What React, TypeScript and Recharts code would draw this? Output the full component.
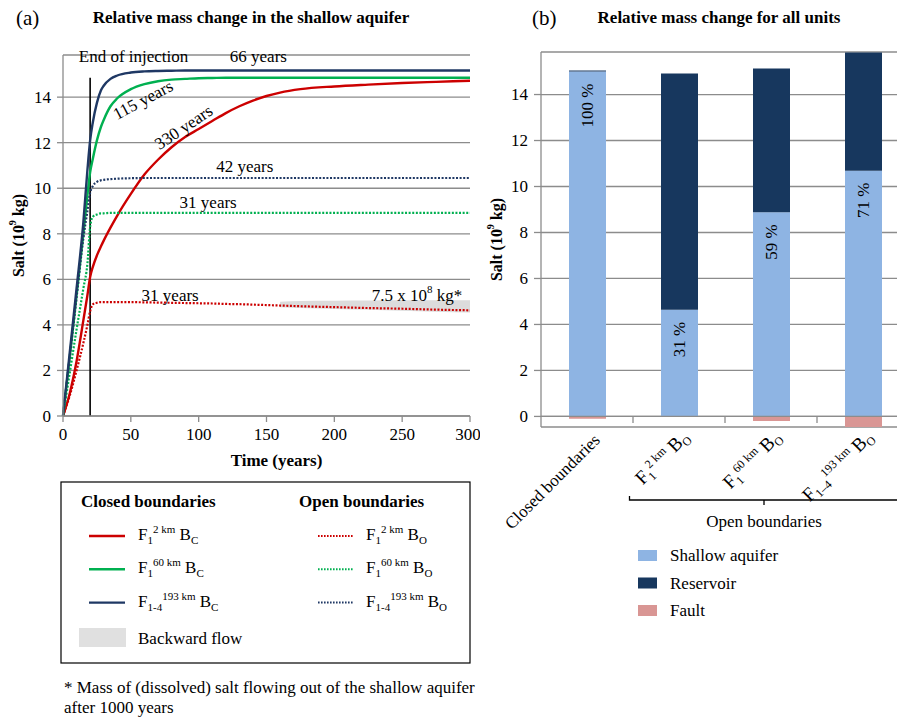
import React from 'react';
import {
  ComposedChart, Line, Area, XAxis, YAxis, CartesianGrid, ReferenceLine, ReferenceDot,
  BarChart, Bar, LabelList,
} from 'recharts';

const FONT = '"Liberation Serif", "Times New Roman", serif';
const GRID = '#8C8C8C';
const RED = '#CC0000';
const GREEN = '#00B050';
const NAVY = '#1F3864';

// (a) salt in the shallow aquifer (10^9 kg) against time (years)
const times = [0, 5, 10, 15, 18, 20, 22, 25, 28, 30, 35, 40, 50, 60, 70, 80, 90, 100, 110, 120, 130, 140, 150, 160, 175, 200, 225, 250, 275, 300];
const closed2km = [0, 1.0, 2.4, 4.2, 5.3, 6.1, 6.55, 7.05, 7.45, 7.7, 8.27, 8.8, 9.75, 10.6, 11.25, 11.8, 12.25, 12.6, 12.95, 13.3, 13.6, 13.85, 14.05, 14.2, 14.35, 14.47, 14.55, 14.62, 14.67, 14.72];
const closed60km = [0, 2.6, 5.3, 8.0, 9.7, 10.7, 11.3, 12.1, 12.7, 13.0, 13.6, 13.95, 14.35, 14.57, 14.7, 14.77, 14.8, 14.83, 14.84, 14.85, 14.85, 14.85, 14.85, 14.85, 14.85, 14.85, 14.85, 14.85, 14.85, 14.85];
const closed193km = [0, 2.8, 5.6, 8.5, 10.8, 12.1, 12.9, 13.75, 14.3, 14.5, 14.8, 14.95, 15.08, 15.13, 15.15, 15.16, 15.17, 15.17, 15.17, 15.17, 15.17, 15.17, 15.17, 15.17, 15.17, 15.17, 15.17, 15.17, 15.17, 15.17];
const open2km = [0, 0.9, 2.0, 3.2, 4.0, 4.6, 4.9, 4.97, 5.0, 5.0, 5.0, 5.0, 5.0, 4.99, 4.98, 4.97, 4.96, 4.95, 4.94, 4.92, 4.91, 4.89, 4.87, 4.85, 4.82, 4.78, 4.74, 4.71, 4.67, 4.64];
const open60km = [0, 1.9, 3.8, 5.6, 6.7, 8.3, 8.75, 8.85, 8.9, 8.9, 8.92, 8.92, 8.92, 8.92, 8.92, 8.92, 8.92, 8.92, 8.92, 8.92, 8.92, 8.92, 8.92, 8.92, 8.92, 8.92, 8.92, 8.92, 8.92, 8.92];
const open193km = [0, 2.6, 5.2, 7.8, 9.0, 9.8, 10.1, 10.28, 10.35, 10.37, 10.4, 10.42, 10.44, 10.45, 10.45, 10.45, 10.45, 10.45, 10.45, 10.45, 10.45, 10.45, 10.45, 10.45, 10.45, 10.45, 10.45, 10.45, 10.45, 10.45];

// backward flow band
const bandTimes = [160, 175, 200, 225, 250, 275, 300];
const bandLow = [4.78, 4.74, 4.70, 4.66, 4.62, 4.58, 4.54];
const bandHigh = [5.02, 5.05, 5.06, 5.07, 5.08, 5.08, 5.08];

const xTicks = [0, 50, 100, 150, 200, 250, 300];
const yTicks = [0, 2, 4, 6, 8, 10, 12, 14];
const injectionEnd = 20;
const injectionTop = 14.85;

const noteText = ['End of injection', '66 years', '115 years', '330 years', '42 years', '31 years', '31 years'];
const noteTime = [52, 144, 59, 89, 134, 107, 79];
const noteValue = [15.8, 15.8, 13.87, 12.67, 10.94, 9.36, 5.3];
const noteAngle = [0, 0, -28, -34, 0, 0, 0];

// (b) relative mass change per unit
const barCats = ['Closed', 'F1 2km BO', 'F1 60km BO', 'F1-4 193km BO'];
const shallowVals = [15.0, 4.64, 8.88, 10.69];
const reservoirVals = [0.05, 10.28, 6.25, 5.14];
const faultVals = [-0.1, 0, -0.2, -0.46];
const shareLabels = ['100 %', '31 %', '59 %', '71 %'];
const catSub = ['', '1', '1', '1–4'];
const catSup = ['', '2 km', '60 km', '193 km'];

const lineData = times.map((t, i) => {
  const j = bandTimes.indexOf(t);
  return {
    t,
    c2: closed2km[i], c60: closed60km[i], c193: closed193km[i],
    o2: open2km[i], o60: open60km[i], o193: open193km[i],
    band: j >= 0 ? [bandLow[j], bandHigh[j]] : null,
  };
});

const barData = barCats.map((cat, i) => ({
  cat, shallow: shallowVals[i], reservoir: reservoirVals[i], fault: faultVals[i],
}));

const series = [
  { key: 'c2', color: RED, dotted: false, sub: '1', sup: '2 km', b: 'C' },
  { key: 'c60', color: GREEN, dotted: false, sub: '1', sup: '60 km', b: 'C' },
  { key: 'c193', color: NAVY, dotted: false, sub: '1-4', sup: '193 km', b: 'C' },
  { key: 'o2', color: RED, dotted: true, sub: '1', sup: '2 km', b: 'O' },
  { key: 'o60', color: GREEN, dotted: true, sub: '1', sup: '60 km', b: 'O' },
  { key: 'o193', color: NAVY, dotted: true, sub: '1-4', sup: '193 km', b: 'O' },
];

const FName = ({ x, y, sub, sup, b, size = 17, small = 11, ...rest }: any) => (
  <text x={x} y={y} fontSize={size} fontFamily={FONT} fill="#000" {...rest}>
    F<tspan fontSize={small} dy={4}>{sub}</tspan>
    <tspan fontSize={small} dy={-11}>{sup}</tspan>
    <tspan fontSize={size} dy={7}>{' B'}</tspan>
    <tspan fontSize={small} dy={4}>{b}</tspan>
  </text>
);

const SaltTitle = ({ x, y }: any) => (
  <text x={x} y={y} transform={`rotate(-90 ${x} ${y})`} textAnchor="middle" dominantBaseline="central"
    fontSize={16} fontWeight="bold" fontFamily={FONT} fill="#000">
    Salt (10<tspan fontSize={10} dy={-6}>9</tspan><tspan dy={6}> kg)</tspan>
  </text>
);

const XNum = (p: any) => (
  <text x={p.x} y={p.y} dy="0.71em" textAnchor="middle" fontSize={17} fontFamily={FONT} fill="#000">
    {p.payload.value}
  </text>
);

const YNum = (p: any) => (
  <text x={p.x} y={p.y} dy="0.35em" textAnchor="end" fontSize={17} fontFamily={FONT} fill="#000">
    {p.payload.value}
  </text>
);

const Note = ({ cx, cy, text, angle }: any) => (
  <text x={cx} y={cy} transform={`rotate(${angle} ${cx} ${cy})`} textAnchor="middle"
    dominantBaseline="central" fontSize={17} fontFamily={FONT} fill="#000">{text}</text>
);

const LeftChart = () => (
  <ComposedChart width={480} height={480} data={lineData} style={{ fontFamily: FONT }}
    margin={{ top: 55, right: 10, bottom: 8, left: 13 }}>
    <CartesianGrid vertical={false} stroke={GRID} strokeWidth={1.3} />
    <XAxis dataKey="t" type="number" domain={[0, 300]} ticks={xTicks} height={56} tickSize={6} tickMargin={6}
      stroke={GRID} strokeWidth={1.3} tick={<XNum />}
      label={(p: any) => (
        <text x={p.viewBox.x + p.viewBox.width / 2 + 10} y={p.viewBox.y + 50} textAnchor="middle"
          fontSize={17} fontWeight="bold" fontFamily={FONT} fill="#000">Time (years)</text>
      )} />
    <YAxis type="number" domain={[0, 15.85]} ticks={yTicks} width={50} tickSize={6} tickMargin={6}
      stroke={GRID} strokeWidth={1.3} tick={<YNum />}
      label={(p: any) => <SaltTitle x={p.viewBox.x + 5} y={p.viewBox.y + p.viewBox.height / 2} />} />
    <Area dataKey="band" type="monotone" fill="#DCDCDC" fillOpacity={1} stroke="none" isAnimationActive={false} />
    <ReferenceLine segment={[{ x: injectionEnd, y: 0 }, { x: injectionEnd, y: injectionTop }]} stroke="#000" strokeWidth={1.6} />
    {series.map((s) => (
      <Line key={s.key} dataKey={s.key} type="monotone" stroke={s.color} strokeWidth={s.dotted ? 2.2 : 2.4}
        strokeDasharray={s.dotted ? '2 1.6' : undefined} dot={false} isAnimationActive={false} />
    ))}
    {noteText.map((txt, i) => (
      <ReferenceDot key={i} x={noteTime[i]} y={noteValue[i]} r={0} ifOverflow="visible"
        shape={(p: any) => <Note cx={p.cx} cy={p.cy} text={txt} angle={noteAngle[i]} />} />
    ))}
    <ReferenceDot x={261} y={5.3} r={0} ifOverflow="visible"
      shape={(p: any) => (
        <text x={p.cx} y={p.cy} textAnchor="middle" dominantBaseline="central" fontSize={17} fontFamily={FONT} fill="#000">
          7.5 x 10<tspan fontSize={11} dy={-6}>8</tspan><tspan dy={6}>{'  kg*'}</tspan>
        </text>
      )} />
  </ComposedChart>
);

const ShareLabel = (p: any) => {
  const cx = p.x + p.width / 2;
  const cy = p.y + 12;
  return (
    <text x={cx} y={cy} transform={`rotate(-90 ${cx} ${cy})`} textAnchor="end" dominantBaseline="central"
      fontSize={17} fontFamily={FONT} fill="#000">{shareLabels[p.index]}</text>
  );
};

const CatTick = (p: any) => {
  const { x, y, index, payload } = p;
  const half = payload && payload.offset ? payload.offset : 46;
  const ax = x + 14;
  const ay = y + 14;
  return (
    <g>
      <line x1={x + half} x2={x + half} y1={y - 10} y2={y - 4} stroke={GRID} strokeWidth={1.3} />
      {index === 0 ? (
        <text x={ax} y={ay} transform={`rotate(-45 ${ax} ${ay})`} textAnchor="end" fontSize={17}
          fontFamily={FONT} fill="#000">Closed boundaries</text>
      ) : (
        <FName x={ax} y={ay - 4} sub={catSub[index]} sup={catSup[index]} b="O" size={19} small={12}
          transform={`rotate(-45 ${ax} ${ay})`} textAnchor="end" />
      )}
    </g>
  );
};

const RightChart = () => (
  <BarChart width={440} height={560} data={barData} stackOffset="sign" barSize={37} style={{ fontFamily: FONT }}
    margin={{ top: 52, right: 11, bottom: 0, left: 21 }}>
    <CartesianGrid vertical={false} stroke={GRID} strokeWidth={1.3} />
    <XAxis dataKey="cat" height={133} axisLine={false} tickLine={false} tickSize={0} tickMargin={0}
      interval={0} tick={<CatTick />} />
    <YAxis type="number" domain={[-0.45, 15.85]} ticks={yTicks} width={40} tickSize={7} tickMargin={6}
      stroke={GRID} strokeWidth={1.3} tick={<YNum />}
      label={(p: any) => <SaltTitle x={p.viewBox.x - 5} y={p.viewBox.y + p.viewBox.height / 2} />} />
    <ReferenceLine y={0} stroke={GRID} strokeWidth={1.3} />
    <Bar dataKey="shallow" stackId="s" fill="#8EB4E3" isAnimationActive={false}>
      <LabelList dataKey="shallow" content={<ShareLabel />} />
    </Bar>
    <Bar dataKey="reservoir" stackId="s" fill="#17375E" isAnimationActive={false} />
    <Bar dataKey="fault" stackId="s" fill="#D99694" isAnimationActive={false} />
  </BarChart>
);

const unitNames = ['Shallow aquifer', 'Reservoir', 'Fault'];
const unitColors = ['#8EB4E3', '#17375E', '#D99694'];

const Overlay = () => (
  <svg width={897} height={719} style={{ position: 'absolute', left: 0, top: 0, pointerEvents: 'none' }}
    fontFamily={FONT}>
    <text x={16} y={25} fontSize={21}>(a)</text>
    <text x={251} y={23} fontSize={17} fontWeight="bold" textAnchor="middle">Relative mass change in the shallow aquifer</text>
    <text x={532} y={25} fontSize={21}>(b)</text>
    <text x={719} y={23} fontSize={17} fontWeight="bold" textAnchor="middle">Relative mass change for all units</text>

    {/* legend (a) */}
    <rect x={61} y={482} width={409} height={181} fill="none" stroke="#000" strokeWidth={1.2} />
    <text x={81} y={507} fontSize={17} fontWeight="bold">Closed boundaries</text>
    <text x={299} y={507} fontSize={17} fontWeight="bold">Open boundaries</text>
    {series.map((s, i) => {
      const row = i % 3;
      const y = 536 + row * 33.3;
      const lx = s.dotted ? 318 : 89;
      const tx = s.dotted ? 366 : 138;
      return (
        <g key={s.key}>
          <line x1={lx} x2={lx + 36} y1={y} y2={y} stroke={s.color} strokeWidth={s.dotted ? 2 : 2.4}
            strokeDasharray={s.dotted ? '1.6 1.4' : undefined} />
          <FName x={tx} y={y + 4} sub={s.sub} sup={s.sup} b={s.b} />
        </g>
      );
    })}
    <rect x={79} y={628} width={47} height={19} fill="#E0E0E0" />
    <text x={138} y={644} fontSize={17}>Backward flow</text>

    <text x={64} y={693} fontSize={17}>* Mass of (dissolved) salt flowing out of the shallow aquifer</text>
    <text x={64} y={713} fontSize={17}>after 1000 years</text>

    {/* grouping bracket (b) */}
    <path d="M629.5,496 L629.5,500 L899,500 L899,496 M764,500 L764,505" fill="none" stroke="#000" strokeWidth={1.3} />
    <text x={764} y={527} fontSize={17} textAnchor="middle">Open boundaries</text>

    {unitNames.map((n, i) => (
      <g key={n}>
        <rect x={638} y={550 + i * 27.5} width={19} height={11} fill={unitColors[i]} />
        <text x={670} y={561 + i * 27.5} fontSize={17}>{n}</text>
      </g>
    ))}
  </svg>
);

export default function App() {
  return (
    <div style={{ position: 'absolute', left: 0, top: 0, width: 897, height: 719, overflow: 'hidden', background: '#fff', fontFamily: FONT }}>
      <div style={{ position: 'absolute', left: 0, top: 0 }}><LeftChart /></div>
      <div style={{ position: 'absolute', left: 480, top: 0 }}><RightChart /></div>
      <Overlay />
    </div>
  );
}
